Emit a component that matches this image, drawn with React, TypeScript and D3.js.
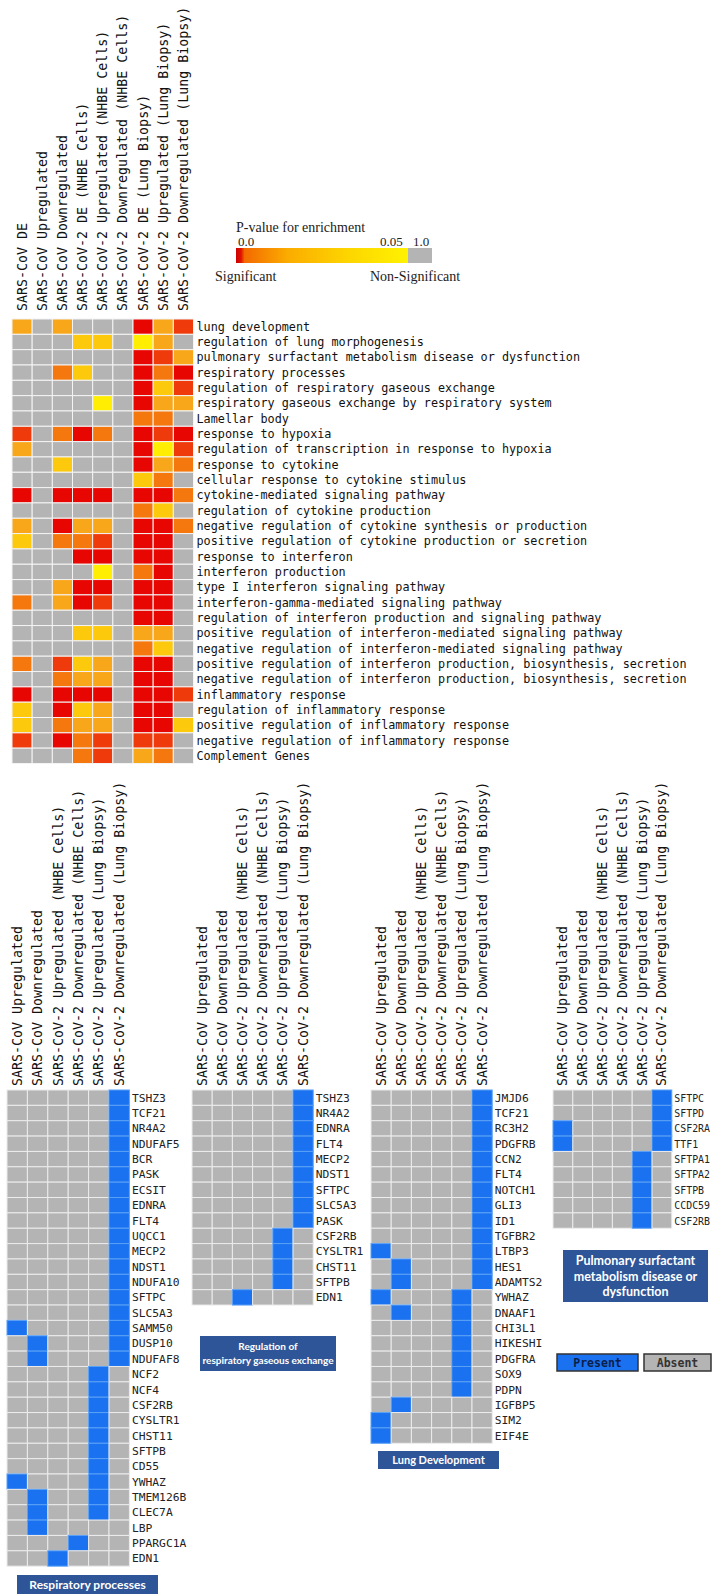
import React, { useEffect } from "react";
import * as d3 from "d3";

// ---------- DATA ----------
const datasets = [
  "SARS-CoV DE",
  "SARS-CoV Upregulated",
  "SARS-CoV Downregulated",
  "SARS-CoV-2 DE (NHBE Cells)",
  "SARS-CoV-2 Upregulated (NHBE Cells)",
  "SARS-CoV-2 Downregulated (NHBE Cells)",
  "SARS-CoV-2 DE (Lung Biopsy)",
  "SARS-CoV-2 Upregulated (Lung Biopsy)",
  "SARS-CoV-2 Downregulated (Lung Biopsy)",
];

const terms = [
  "lung development",
  "regulation of lung morphogenesis",
  "pulmonary surfactant metabolism disease or dysfunction",
  "respiratory processes",
  "regulation of respiratory gaseous exchange",
  "respiratory gaseous exchange by respiratory system",
  "Lamellar body",
  "response to hypoxia",
  "regulation of transcription in response to hypoxia",
  "response to cytokine",
  "cellular response to cytokine stimulus",
  "cytokine-mediated signaling pathway",
  "regulation of cytokine production",
  "negative regulation of cytokine synthesis or production",
  "positive regulation of cytokine production or secretion",
  "response to interferon",
  "interferon production",
  "type I interferon signaling pathway",
  "interferon-gamma-mediated signaling pathway",
  "regulation of interferon production and signaling pathway",
  "positive regulation of interferon-mediated signaling pathway",
  "negative regulation of interferon-mediated signaling pathway",
  "positive regulation of interferon production, biosynthesis, secretion",
  "negative regulation of interferon production, biosynthesis, secretion",
  "inflammatory response",
  "regulation of inflammatory response",
  "positive regulation of inflammatory response",
  "negative regulation of inflammatory response",
  "Complement Genes",
];

// estimated p-values read from colour (1 = non-significant)
const R = 0.001, RO = 0.01, O = 0.02, A = 0.03, Y = 0.04, LY = 0.049, NS = 1;
const pValues: number[][] = [
  [A, NS, A, NS, NS, NS, R, A, RO],
  [NS, NS, NS, Y, Y, NS, LY, A, NS],
  [NS, NS, NS, NS, NS, NS, R, RO, A],
  [NS, NS, O, Y, NS, NS, R, O, R],
  [NS, NS, NS, NS, NS, NS, R, Y, RO],
  [NS, NS, NS, NS, LY, NS, R, A, A],
  [NS, NS, NS, NS, NS, NS, O, O, NS],
  [RO, NS, O, R, O, NS, R, RO, R],
  [A, NS, NS, NS, NS, NS, R, LY, RO],
  [NS, NS, Y, NS, NS, NS, R, A, O],
  [NS, NS, NS, NS, NS, NS, Y, O, NS],
  [R, NS, R, R, R, NS, R, R, O],
  [NS, NS, NS, NS, NS, NS, O, Y, NS],
  [A, NS, R, A, A, NS, R, R, O],
  [Y, NS, O, O, RO, NS, R, R, NS],
  [NS, NS, NS, R, R, NS, R, R, NS],
  [NS, NS, NS, NS, LY, NS, O, R, NS],
  [NS, NS, A, R, R, NS, R, R, NS],
  [O, NS, A, R, RO, NS, R, R, NS],
  [NS, NS, NS, NS, NS, NS, R, R, NS],
  [NS, NS, NS, Y, Y, NS, A, A, NS],
  [NS, NS, NS, NS, NS, NS, O, Y, NS],
  [O, NS, RO, Y, A, NS, R, R, NS],
  [NS, NS, O, A, A, NS, R, R, NS],
  [R, NS, R, R, R, NS, R, R, RO],
  [Y, NS, R, Y, A, NS, R, R, NS],
  [Y, NS, O, A, A, NS, R, R, Y],
  [RO, NS, R, O, RO, NS, RO, RO, NS],
  [NS, NS, NS, O, RO, NS, A, O, NS],
];

const legendTicks = ["0.0", "0.05", "1.0"];

const geneSetDatasets = [
  "SARS-CoV Upregulated",
  "SARS-CoV Downregulated",
  "SARS-CoV-2 Upregulated (NHBE Cells)",
  "SARS-CoV-2 Downregulated (NHBE Cells)",
  "SARS-CoV-2 Upregulated (Lung Biopsy)",
  "SARS-CoV-2 Downregulated (Lung Biopsy)",
];

const respGenes = ["TSHZ3","TCF21","NR4A2","NDUFAF5","BCR","PASK","ECSIT","EDNRA","FLT4","UQCC1","MECP2","NDST1","NDUFA10","SFTPC","SLC5A3","SAMM50","DUSP10","NDUFAF8","NCF2","NCF4","CSF2RB","CYSLTR1","CHST11","SFTPB","CD55","YWHAZ","TMEM126B","CLEC7A","LBP","PPARGC1A","EDN1"];
const respPresent = [[5],[5],[5],[5],[5],[5],[5],[5],[5],[5],[5],[5],[5],[5],[5],[0,5],[1,5],[1,5],[4],[4],[4],[4],[4],[4],[4],[0,4],[1,4],[1,4],[1],[3],[2]];

const gasGenes = ["TSHZ3","NR4A2","EDNRA","FLT4","MECP2","NDST1","SFTPC","SLC5A3","PASK","CSF2RB","CYSLTR1","CHST11","SFTPB","EDN1"];
const gasPresent = [[5],[5],[5],[5],[5],[5],[5],[5],[5],[4],[4],[4],[4],[2]];

const lungGenes = ["JMJD6","TCF21","RC3H2","PDGFRB","CCN2","FLT4","NOTCH1","GLI3","ID1","TGFBR2","LTBP3","HES1","ADAMTS2","YWHAZ","DNAAF1","CHI3L1","HIKESHI","PDGFRA","SOX9","PDPN","IGFBP5","SIM2","EIF4E"];
const lungPresent = [[5],[5],[5],[5],[5],[5],[5],[5],[5],[5],[0,5],[1,5],[1,5],[0,4],[1,4],[4],[4],[4],[4],[4],[1],[0],[0]];

const surfGenes = ["SFTPC","SFTPD","CSF2RA","TTF1","SFTPA1","SFTPA2","SFTPB","CCDC59","CSF2RB"];
const surfPresent = [[5],[5],[0,5],[0,5],[4],[4],[4],[4],[4]];

// ---------- STYLE ----------
const MONO = "'DejaVu Sans Mono', monospace";
const SERIF = "'Liberation Serif', 'Times New Roman', serif";
const BOXFONT = "Lato, 'Open Sans', sans-serif";
const GRAY = "#b4b4b4";
const BLUE = "#1a72f0";
const BOXBLUE = "#2e5597";

const colorScale = d3
  .scaleLinear<string>()
  .domain([0, 0.01, 0.02, 0.03, 0.04, 0.05])
  .range(["#e60000", "#ef3a0c", "#f5780e", "#f9a71a", "#fdc90c", "#fff200"])
  .clamp(true);
const cellColor = (p: number) => (p > 0.05 ? GRAY : colorScale(p));

function TopHeatmap() {
  const x = d3.scaleBand<number>().domain(d3.range(datasets.length)).range([12, 193.5]);
  const y = d3.scaleBand<number>().domain(d3.range(terms.length)).range([319, 763.5]);
  return (
    <g>
      {datasets.map((d, i) => (
        <text
          key={d}
          transform={`translate(${(x(i) as number) + x.bandwidth() / 2 + 4.5},311) rotate(-90)`}
          fontFamily={MONO}
          fontSize={13.3}
          fill="#111"
        >
          {d}
        </text>
      ))}
      {pValues.map((row, r) =>
        row.map((p, c) => (
          <rect
            key={`${r}-${c}`}
            x={x(c)}
            y={y(r)}
            width={x.bandwidth()}
            height={y.bandwidth()}
            fill={cellColor(p)}
            stroke="#f4f4f4"
            strokeWidth={1}
          />
        ))
      )}
      {terms.map((t, r) => (
        <text
          key={t}
          x={196.5}
          y={(y(r) as number) + y.bandwidth() / 2 + 4}
          fontFamily={MONO}
          fontSize={11.8}
          fill="#111"
        >
          {t}
        </text>
      ))}
    </g>
  );
}

function Legend() {
  const bx = d3.scaleLinear().domain([0, 0.05]).range([236, 408]);
  return (
    <g>
      <defs>
        <linearGradient id="pgrad" x1="0" x2="1" y1="0" y2="0">
          <stop offset="0" stopColor="#cc0000" />
          <stop offset="0.03" stopColor="#e01400" />
          <stop offset="0.05" stopColor="#f36a00" />
          <stop offset="0.3" stopColor="#fbac00" />
          <stop offset="0.65" stopColor="#fdd500" />
          <stop offset="1" stopColor="#fff200" />
        </linearGradient>
      </defs>
      <text x={236} y={232} fontFamily={SERIF} fontSize={14} fill="#222">
        P-value for enrichment
      </text>
      <text x={bx(0) + 2} y={246} fontFamily={SERIF} fontSize={13} fill="#222">{legendTicks[0]}</text>
      <text x={bx(0.05) - 28} y={246} fontFamily={SERIF} fontSize={13} fill="#222">{legendTicks[1]}</text>
      <text x={bx(0.05) + 5} y={246} fontFamily={SERIF} fontSize={13} fill="#222">{legendTicks[2]}</text>
      <rect x={bx(0)} y={248} width={bx(0.05) - bx(0)} height={15} fill="url(#pgrad)" />
      <rect x={bx(0.05)} y={248} width={24} height={15} fill={GRAY} />
      <text x={215} y={281} fontFamily={SERIF} fontSize={14} fill="#222">Significant</text>
      <text x={370} y={281} fontFamily={SERIF} fontSize={14} fill="#222">Non-Significant</text>
    </g>
  );
}

type PanelProps = {
  genes: string[];
  present: number[][];
  x0: number;
  cw: number;
  top: number;
  labelFs?: number;
  box: { x: number; y: number; w: number; h: number; lines: string[]; fs: number; lh: number };
};

function GenePanel({ genes, present, x0, cw, top, box, labelFs = 11.3 }: PanelProps) {
  const rh = 15.36;
  const x = d3.scaleBand<number>().domain(d3.range(geneSetDatasets.length)).range([x0, x0 + cw * geneSetDatasets.length]);
  const y = d3.scaleBand<number>().domain(d3.range(genes.length)).range([top, top + rh * genes.length]);
  return (
    <g>
      {geneSetDatasets.map((d, i) => (
        <text
          key={d}
          transform={`translate(${(x(i) as number) + x.bandwidth() / 2 + 4.5},${top - 4}) rotate(-90)`}
          fontFamily={MONO}
          fontSize={13.3}
          fill="#111"
        >
          {d}
        </text>
      ))}
      {genes.map((g, r) =>
        geneSetDatasets.map((_, c) => {
          const on = present[r].includes(c);
          return (
            <rect
              key={`${r}-${c}`}
              x={x(c)}
              y={y(r)}
              width={x.bandwidth()}
              height={y.bandwidth()}
              fill={on ? BLUE : GRAY}
              stroke={on ? "#5aa0f5" : "#ececec"}
              strokeWidth={1}
            />
          );
        })
      )}
      {genes.map((g, r) => (
        <text
          key={g + r}
          x={x0 + cw * geneSetDatasets.length + 2.5}
          y={(y(r) as number) + rh / 2 + 4}
          fontFamily={MONO}
          fontSize={labelFs}
          fill="#222"
        >
          {g}
        </text>
      ))}
      <rect x={box.x} y={box.y} width={box.w} height={box.h} fill={BOXBLUE} />
      {box.lines.map((l, i) => (
        <text
          key={l}
          x={box.x + box.w / 2}
          y={box.y + box.h / 2 + (i - (box.lines.length - 1) / 2) * box.lh + box.fs * 0.36}
          textAnchor="middle"
          fontFamily={BOXFONT}
          fontWeight={700}
          fontSize={box.fs}
          fill="#fff"
        >
          {l}
        </text>
      ))}
    </g>
  );
}

export default function App() {
  useEffect(() => {
    document.body.style.margin = "0";
  }, []);
  return (
    <svg width={712} height={1595} style={{ display: "block", background: "#fff" }}>
      <rect width={712} height={1595} fill="#fff" />
      <TopHeatmap />
      <Legend />
      <GenePanel
        genes={respGenes}
        present={respPresent}
        x0={7}
        cw={20.4}
        top={1090}
        box={{ x: 17, y: 1575, w: 141, h: 19, lines: ["Respiratory processes"], fs: 12, lh: 14 }}
      />
      <GenePanel
        genes={gasGenes}
        present={gasPresent}
        x0={192}
        cw={20.2}
        top={1090}
        box={{ x: 200, y: 1336, w: 136, h: 35, lines: ["Regulation of", "respiratory gaseous exchange"], fs: 10, lh: 13.5 }}
      />
      <GenePanel
        genes={lungGenes}
        present={lungPresent}
        x0={371}
        cw={20.2}
        top={1090}
        box={{ x: 378, y: 1451, w: 121, h: 18, lines: ["Lung Development"], fs: 11, lh: 14 }}
      />
      <GenePanel
        genes={surfGenes}
        present={surfPresent}
        x0={553}
        cw={19.8}
        top={1090}
        labelFs={9.9}
        box={{ x: 563, y: 1250, w: 145, h: 52, lines: ["Pulmonary surfactant", "metabolism disease or", "dysfunction"], fs: 12.5, lh: 15.5 }}
      />
      <g>
        <rect x={557} y={1354} width={81} height={17} fill={BLUE} stroke="#333" strokeWidth={1.5} />
        <text x={597.5} y={1366.5} textAnchor="middle" fontFamily={MONO} fontWeight={700} fontSize={11.5} fill="#0b1f4d">Present</text>
        <rect x={644} y={1354} width={67} height={17} fill={GRAY} stroke="#333" strokeWidth={1.5} />
        <text x={677.5} y={1366.5} textAnchor="middle" fontFamily={MONO} fontWeight={700} fontSize={11.5} fill="#333">Absent</text>
      </g>
    </svg>
  );
}
